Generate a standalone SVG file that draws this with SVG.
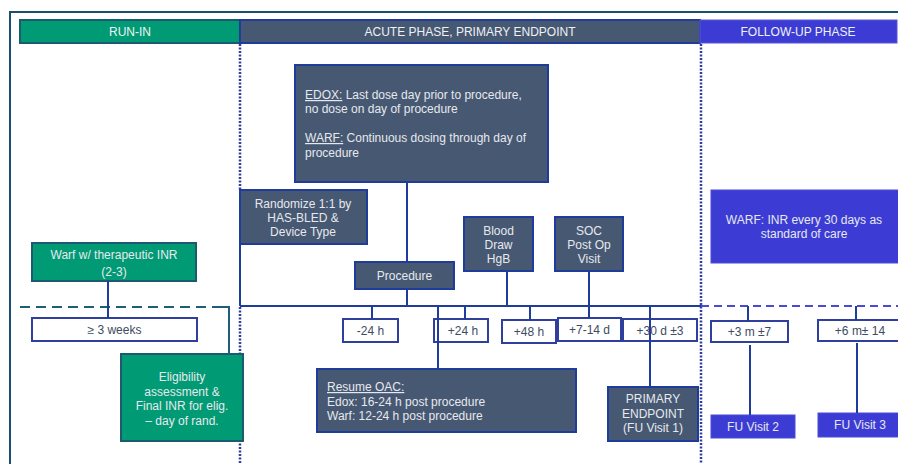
<svg xmlns="http://www.w3.org/2000/svg" width="898" height="464" viewBox="0 0 898 464">
<style>
text{font-family:"Liberation Sans",Arial,sans-serif;font-size:12px}
.hd{fill:#eef2f5;text-anchor:middle}
.lt{fill:#e6e9ee}
.c{text-anchor:middle}
.slate{fill:#475872;stroke:#1f3c9a;stroke-width:2}
.green{fill:#009a74;stroke:#1d5a70;stroke-width:2}
.blue{fill:#3c3cd4;stroke:#4a4ad8;stroke-width:1}
.tl{fill:#ffffff;stroke:#2e3f9e;stroke-width:2}
.tt{fill:#3d4b63;text-anchor:middle}
.ln{stroke:#1f3c9a;stroke-width:2;fill:none}
.dot{stroke:#2e3f9e;stroke-width:2.5;stroke-dasharray:2 1.5;fill:none}
.u{text-decoration:underline}
</style>
<rect width="898" height="464" fill="#ffffff"/>
<g id="frame">
<path d="M10 464 V12 H898" fill="none" stroke="#1b4f6e" stroke-width="2"/>
</g>
<g id="headers">
<rect x="20" y="20" width="220" height="23" fill="#009a74" stroke="#1d5a70" stroke-width="2"/>
<text class="hd" x="130" y="36">RUN-IN</text>
<rect x="240" y="20" width="460" height="23" fill="#475872" stroke="#1f3c9a" stroke-width="2"/>
<text class="hd" x="470" y="36">ACUTE PHASE, PRIMARY ENDPOINT</text>
<rect x="700" y="20" width="197" height="23" fill="#3c3cd4" stroke="#5656d8" stroke-width="1"/>
<text class="hd" x="798" y="36">FOLLOW-UP PHASE</text>
</g>
<g id="phase-lines">
<line class="dot" x1="240" y1="44" x2="240" y2="190"/>
<line class="dot" x1="240" y1="307" x2="240" y2="464"/>
<line class="dot" x1="701" y1="44" x2="701" y2="464"/>
</g>
<g id="edox">
<rect class="slate" x="295" y="65" width="253" height="117"/>
<text class="lt" x="305" y="99"><tspan class="u">EDOX:</tspan> Last dose day prior to procedure,</text>
<text class="lt" x="305" y="113">no dose on day of procedure</text>
<text class="lt" x="305" y="142"><tspan class="u">WARF:</tspan> Continuous dosing through day of</text>
<text class="lt" x="305" y="157">procedure</text>
</g>
<g id="randomize">
<rect class="slate" x="240" y="190" width="127" height="54"/>
<text class="lt c" x="303" y="208">Randomize 1:1 by</text>
<text class="lt c" x="303" y="222">HAS-BLED &amp;</text>
<text class="lt c" x="303" y="236">Device Type</text>
</g>
<g id="procedure">
<rect class="slate" x="355" y="262" width="99" height="27"/>
<text class="lt c" x="404.5" y="280">Procedure</text>
</g>
<g id="blood-draw">
<rect class="slate" x="464" y="217" width="69" height="54"/>
<text class="lt c" x="498.5" y="235">Blood</text>
<text class="lt c" x="498.5" y="249">Draw</text>
<text class="lt c" x="498.5" y="263">HgB</text>
</g>
<g id="soc">
<rect class="slate" x="555" y="217" width="68" height="54"/>
<text class="lt c" x="589" y="235">SOC</text>
<text class="lt c" x="589" y="249">Post Op</text>
<text class="lt c" x="589" y="263">Visit</text>
</g>
<g id="warf-inr">
<rect class="green" x="32" y="243" width="164" height="38"/>
<text class="lt c" x="114" y="259">Warf w/ therapeutic INR</text>
<text class="lt c" x="114" y="276">(2-3)</text>
</g>
<g id="weeks">
<rect class="tl" x="32" y="318" width="165" height="23"/>
<text class="tt" x="114.5" y="334">≥ 3 weeks</text>
</g>
<g id="eligibility">
<rect class="green" x="121" y="354" width="122" height="87"/>
<text class="lt c" x="182" y="381">Eligibility</text>
<text class="lt c" x="182" y="396">assessment &amp;</text>
<text class="lt c" x="182" y="410">Final INR for elig.</text>
<text class="lt c" x="182" y="425">– day of rand.</text>
</g>
<g id="t-minus24">
<rect class="tl" x="343" y="319" width="55" height="23"/>
<text class="tt" x="370.5" y="335">-24 h</text>
</g>
<g id="t-plus24">
<rect class="tl" x="434" y="319" width="54" height="23"/>
<text class="tt" x="463" y="335">+24 h</text>
</g>
<g id="t-plus48">
<rect class="tl" x="502" y="320" width="54" height="23"/>
<text class="tt" x="529" y="336">+48 h</text>
</g>
<g id="t-7-14d">
<rect class="tl" x="558" y="318" width="63" height="23"/>
<text class="tt" x="589.5" y="334">+7-14 d</text>
</g>
<g id="t-30d">
<rect class="tl" x="623" y="319" width="74" height="22"/>
<text class="tt" x="660" y="335">+30 d ±3</text>
</g>
<g id="resume-oac">
<rect class="slate" x="317" y="369" width="259" height="63"/>
<text class="lt" x="327" y="391"><tspan class="u">Resume OAC:</tspan></text>
<text class="lt" x="327" y="406">Edox: 16-24 h post procedure</text>
<text class="lt" x="327" y="420">Warf: 12-24 h post procedure</text>
</g>
<g id="primary-endpoint">
<rect class="slate" x="608" y="387" width="90" height="54"/>
<text class="lt c" x="653" y="403">PRIMARY</text>
<text class="lt c" x="653" y="418">ENDPOINT</text>
<text class="lt c" x="653" y="432">(FU Visit 1)</text>
</g>
<g id="warf-fu">
<rect class="blue" x="711" y="190" width="190" height="73"/>
<text class="lt c" x="804" y="224">WARF: INR every 30 days as</text>
<text class="lt c" x="804" y="238">standard of care</text>
</g>
<g id="t-3m">
<rect class="tl" x="711" y="321" width="77" height="21"/>
<text class="tt" x="749.5" y="336">+3 m ±7</text>
</g>
<g id="t-6m">
<rect class="tl" x="818" y="320" width="86" height="21"/>
<text class="tt" x="860" y="335">+6 m± 14</text>
</g>
<g id="fu-visit-2">
<rect class="blue" x="711" y="415" width="84" height="23"/>
<text class="lt c" x="753" y="431">FU Visit 2</text>
</g>
<g id="fu-visit-3">
<rect class="blue" x="818" y="413" width="86" height="24"/>
<text class="lt c" x="860" y="429">FU Visit 3</text>
</g>
<g id="connectors">
<line class="ln" x1="240" y1="306" x2="701" y2="306"/>
<line x1="701" y1="306" x2="898" y2="306" stroke="#4a4ad8" stroke-width="2" stroke-dasharray="8 5"/>
<line x1="20" y1="307" x2="229" y2="307" stroke="#1d5f7a" stroke-width="2" stroke-dasharray="10 6"/>
<polyline points="221,307 229,307 229,354" fill="none" stroke="#1d5f7a" stroke-width="2"/>
<line class="ln" x1="240" y1="244" x2="240" y2="306"/>
<line class="ln" x1="108" y1="281" x2="108" y2="318"/>
<line class="ln" x1="407" y1="182" x2="407" y2="262"/>
<line class="ln" x1="407" y1="289" x2="407" y2="306"/>
<line class="ln" x1="507" y1="271" x2="507" y2="306"/>
<line class="ln" x1="589" y1="271" x2="589" y2="318"/>
<line class="ln" x1="372" y1="306" x2="372" y2="319"/>
<line class="ln" x1="438" y1="306" x2="438" y2="369"/>
<line class="ln" x1="465" y1="306" x2="465" y2="319"/>
<line class="ln" x1="530" y1="306" x2="530" y2="320"/>
<line class="ln" x1="650" y1="306" x2="650" y2="387"/>
<line class="ln" x1="748" y1="306" x2="748" y2="321"/>
<line class="ln" x1="856" y1="306" x2="856" y2="320"/>
<line class="ln" x1="750" y1="345" x2="750" y2="415"/>
<line class="ln" x1="857" y1="343" x2="857" y2="413"/>
</g>
</svg>
